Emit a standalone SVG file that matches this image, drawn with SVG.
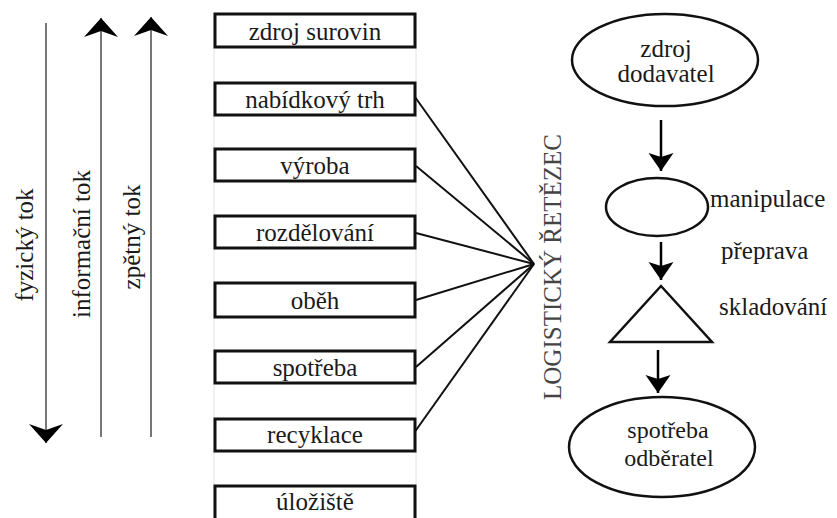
<svg xmlns="http://www.w3.org/2000/svg" width="837" height="518" viewBox="0 0 837 518">
<style>
text{font-family:"Liberation Serif","Times New Roman",serif;font-size:25px;fill:#1a1a1a}
.box rect{fill:#fff;stroke:#111;stroke-width:3}
.box text{text-anchor:middle}
.guide{stroke:#e2e2e2;stroke-width:1}
.conn line{stroke:#111;stroke-width:2}
.flow{fill:none;stroke:#555;stroke-width:1.6}
.shape{fill:#fff;stroke:#111;stroke-width:2.5}
.mid{text-anchor:middle}
</style>
<defs>
<marker id="big" markerUnits="userSpaceOnUse" viewBox="-20 -18 22 36" markerWidth="22" markerHeight="36" refX="0" refY="0" orient="auto">
<path d="M0,0 L-19,-17 L-13,0 L-19,17 z" fill="#000"/>
</marker>
<marker id="small" markerUnits="userSpaceOnUse" viewBox="-20 -14 22 28" markerWidth="22" markerHeight="28" refX="0" refY="0" orient="auto">
<path d="M0,0 L-18,-12.5 L-14,0 L-18,12.5 z" fill="#000"/>
</marker>
</defs>
<rect width="837" height="518" fill="#fff"/>
<line class="guide" x1="214" y1="14" x2="214" y2="518"/>
<line class="guide" x1="416" y1="14" x2="416" y2="518"/>

<g id="flows">
<line class="flow" x1="46" y1="23" x2="46" y2="443" marker-end="url(#big)"/>
<line class="flow" x1="101" y1="437" x2="101" y2="18" marker-end="url(#big)"/>
<line class="flow" x1="151" y1="437" x2="151" y2="17" stroke="#222" stroke-width="1.2" marker-end="url(#big)"/>
<text transform="translate(33,245) rotate(-90)" class="mid">fyzický tok</text>
<text transform="translate(90,244) rotate(-90)" class="mid">informační tok</text>
<text transform="translate(140,237) rotate(-90)" class="mid">zpětný tok</text>
</g>

<g id="connectors" class="conn">
<line x1="415" y1="97" x2="534" y2="264"/>
<line x1="416" y1="166" x2="534" y2="264"/>
<line x1="416" y1="233" x2="534" y2="264"/>
<line x1="416" y1="300" x2="534" y2="264"/>
<line x1="416" y1="367" x2="534" y2="264"/>
<line x1="414" y1="433" x2="534" y2="264"/>
</g>

<g id="n-zdroj-surovin" class="box"><rect x="215" y="14" width="200" height="33"/><text x="315" y="40">zdroj surovin</text></g>
<g id="n-nabidkovy-trh" class="box"><rect x="215" y="83" width="200" height="32"/><text x="315" y="108">nabídkový trh</text></g>
<g id="n-vyroba" class="box"><rect x="215" y="149" width="200" height="32"/><text x="315" y="174">výroba</text></g>
<g id="n-rozdelovani" class="box"><rect x="215" y="216" width="200" height="32"/><text x="315" y="241">rozdělování</text></g>
<g id="n-obeh" class="box"><rect x="215" y="283" width="200" height="34"/><text x="315" y="309">oběh</text></g>
<g id="n-spotreba" class="box"><rect x="215" y="351" width="200" height="32"/><text x="315" y="376">spotřeba</text></g>
<g id="n-recyklace" class="box"><rect x="215" y="419" width="200" height="32"/><text x="315" y="443">recyklace</text></g>
<g id="n-uloziste" class="box"><rect x="215" y="486" width="200" height="45"/><text x="315" y="510">úložiště</text></g>

<g id="n-logisticky">
<text transform="translate(561,267) rotate(-90)" class="mid" style="fill:#444">LOGISTICKÝ ŘETĚZEC</text>
</g>

<g id="n-zdroj-dodavatel">
<ellipse class="shape" cx="665" cy="60" rx="93" ry="46"/>
<text x="666" y="57" class="mid">zdroj</text>
<text x="666" y="82" class="mid">dodavatel</text>
</g>
<g id="n-manipulace">
<ellipse class="shape" cx="657" cy="207" rx="51" ry="29"/>
<text x="710" y="207">manipulace</text>
</g>
<g id="n-skladovani">
<polygon class="shape" points="661,286 610,342 712,342"/>
<text x="719" y="315">skladování</text>
</g>
<g id="n-spotreba-odberatel">
<ellipse class="shape" cx="662" cy="447" rx="93" ry="50"/>
<text x="668" y="438" class="mid" style="font-size:24px">spotřeba</text>
<text x="669" y="466" class="mid" style="font-size:24px">odběratel</text>
</g>

<g id="right-connectors">
<line x1="661" y1="120" x2="661" y2="171" stroke="#000" stroke-width="2.5" marker-end="url(#small)"/>
<line x1="661" y1="242" x2="661" y2="280" stroke="#000" stroke-width="2.5" marker-end="url(#small)"/>
<line x1="658" y1="350" x2="658" y2="393" stroke="#000" stroke-width="2.5" marker-end="url(#small)"/>
<text x="721" y="259">přeprava</text>
</g>
</svg>
